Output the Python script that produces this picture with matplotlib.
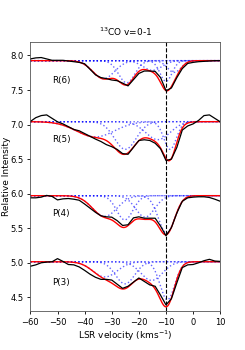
import numpy as np
import matplotlib.pyplot as plt

# observed spectra, sampled every 2 km/s from -60 to 10
velocity = np.arange(-60, 11, 2)

obs_R6 = [7.95, 7.965, 7.97, 7.95, 7.93, 7.93, 7.93, 7.92, 7.91, 7.90, 7.88, 7.80,
          7.72, 7.68, 7.665, 7.645, 7.635, 7.60, 7.56, 7.65, 7.74, 7.775, 7.775, 7.77,
          7.68, 7.49, 7.53, 7.68, 7.81, 7.885, 7.90, 7.91, 7.915, 7.92, 7.925, 7.925]
obs_R5 = [7.045, 7.10, 7.13, 7.14, 7.09, 7.04, 7.01, 6.97, 6.93, 6.91, 6.87, 6.83,
          6.79, 6.755, 6.71, 6.68, 6.64, 6.58, 6.57, 6.67, 6.77, 6.78, 6.77, 6.73,
          6.65, 6.48, 6.50, 6.67, 6.92, 6.98, 7.01, 7.06, 7.13, 7.14, 7.09, 7.04]
obs_P4 = [5.94, 5.94, 5.95, 5.975, 5.96, 5.91, 5.925, 5.93, 5.92, 5.905, 5.85, 5.79,
          5.73, 5.68, 5.665, 5.66, 5.61, 5.54, 5.55, 5.65, 5.665, 5.645, 5.645, 5.645,
          5.53, 5.39, 5.51, 5.72, 5.89, 5.94, 5.95, 5.955, 5.955, 5.945, 5.92, 5.89]
obs_P3 = [4.95, 4.97, 5.00, 5.01, 5.015, 5.06, 5.02, 4.975, 4.97, 4.94, 4.89, 4.835,
          4.79, 4.76, 4.76, 4.75, 4.69, 4.63, 4.66, 4.72, 4.78, 4.73, 4.68, 4.66,
          4.53, 4.39, 4.48, 4.71, 4.93, 4.97, 4.975, 5.0, 5.03, 5.05, 5.025, 5.02]

# gaussian fit components: (centre, depth, sigma)
comp_R6 = [(-33.0, 0.26, 4.0), (-24.5, 0.32, 3.0), (-15.0, 0.14, 3.5),
           (-10.0, 0.30, 2.2), (-7.0, 0.17, 2.5)]
comp_R5 = [(-36.0, 0.22, 7.0), (-25.0, 0.40, 4.0), (-13.0, 0.26, 4.5),
           (-8.5, 0.40, 2.3)]
comp_P4 = [(-32.6, 0.30, 4.5), (-25.2, 0.35, 3.0), (-17.7, 0.31, 3.5),
           (-9.8, 0.54, 3.0)]
comp_P3 = [(-32.5, 0.22, 4.5), (-25.1, 0.32, 3.5), (-15.3, 0.27, 4.0),
           (-9.5, 0.55, 2.7)]

continuum = [7.925, 7.042, 5.971, 5.015]
labels = ['R(6)', 'R(5)', 'P(4)', 'P(3)']
label_y = [7.645, 6.79, 5.71, 4.71]

fig = plt.figure(figsize=(2.45, 3.5), dpi=100)
ax = fig.add_axes([0.124, 0.111, 0.775, 0.77])

vfine = np.linspace(-60, 10, 500)
spectra = [obs_R6, obs_R5, obs_P4, obs_P3]
comps = [comp_R6, comp_R5, comp_P4, comp_P3]

for obs, comp, cont, lab, ly in zip(spectra, comps, continuum, labels, label_y):
    total = np.zeros_like(vfine)
    for c, d, s in comp:
        g = d * np.exp(-(vfine - c)**2 / (2 * s**2))
        total += g
        ax.plot(vfine, cont - g, color='blue', ls=':', lw=1.0, alpha=0.6)
    ax.plot(vfine, cont - total, color='red', lw=1.0)
    ax.plot(velocity, obs, color='black', lw=0.9)
    ax.text(-52, ly, lab, fontsize=6.3, va='center', ha='left')

ax.axvline(-10, color='black', ls='--', lw=0.8)
ax.set_xlim(-60, 10)
ax.set_ylim(4.3, 8.2)
ax.set_xticks([-60, -50, -40, -30, -20, -10, 0, 10])
ax.set_yticks([4.5, 5.0, 5.5, 6.0, 6.5, 7.0, 7.5, 8.0])
ax.tick_params(labelsize=6, length=2.5, width=0.6, pad=2.5)
for sp in ax.spines.values():
    sp.set_linewidth(0.6)
    sp.set_color('#555555')
ax.set_xlabel('LSR velocity (kms$^{-1}$)', fontsize=6.5, labelpad=1)
ax.set_ylabel('Relative Intensity', fontsize=6.5)
ax.yaxis.set_label_coords(-0.1, 0.5)
ax.set_title('$^{13}$CO v=0-1', fontsize=6.5, pad=4)

fig.savefig('out.png', dpi=100)
